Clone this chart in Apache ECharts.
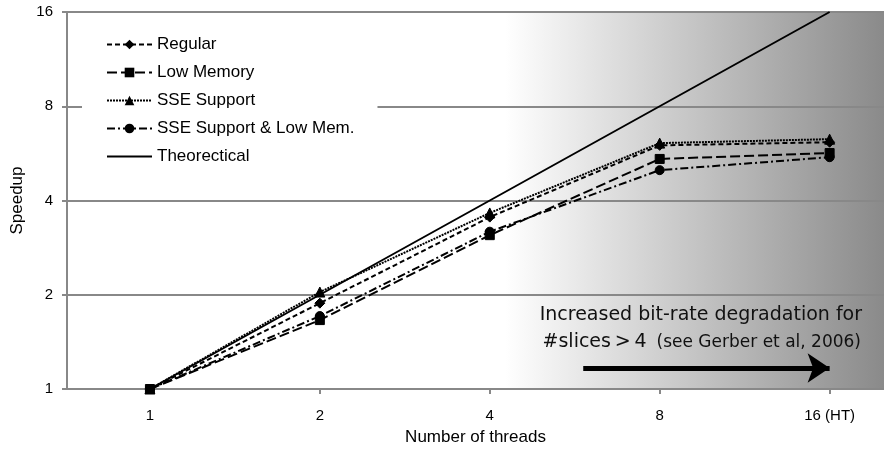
<!DOCTYPE html>
<html>
<head>
<meta charset="utf-8">
<script src="https://cdn.jsdelivr.net/npm/echarts@6/dist/echarts.min.js"></script>
<style>html,body{margin:0;padding:0;background:#fff}#c{width:884px;height:450px}</style>
</head>
<body>
<div id="c"></div>
<script>
const threads = ['1', '2', '4', '8', '16 (HT)'];
const regular = [1, 1.88, 3.54, 6.0, 6.14];
const lowMemory = [1, 1.66, 3.10, 5.43, 5.67];
const sseSupport = [1, 2.04, 3.65, 6.1, 6.28];
const sseLowMem = [1, 1.71, 3.18, 5.0, 5.5];
const theoretical = [1, 2, 4, 8, 16];
const yTicks = [1, 2, 4, 8, 16];

const idx = threads.map((t, i) => i);
const pts = arr => arr.map((v, i) => [i, v]);
const arrowStart = [2.55, 1.167];
const arrowEnd = [4, 1.167];

const chart = echarts.init(document.getElementById('c'), null, {renderer: 'canvas'});
const font = 'Liberation Sans, Arial, sans-serif';
const mk = (name, data, symbol, size, dash, width) => ({
  name, type: 'line', data: pts(data), symbol, symbolSize: size,
  lineStyle: {color: '#000', width: width || 2, type: dash},
  itemStyle: {color: '#000', borderColor: '#000'},
  emphasis: {disabled: true}, animation: false, z: 3
});
const series = [
  mk('Regular', regular, 'diamond', 10, [5, 3]),
  mk('Low Memory', lowMemory, 'rect', 9, [10, 4]),
  mk('SSE Support', sseSupport, 'triangle', 10, [2, 1]),
  mk('SSE Support & Low Mem.', sseLowMem, 'circle', 9, [8, 3, 2, 3]),
  mk('Theorectical', theoretical, 'circle', 0, 'solid')
];
series[4].showSymbol = false;
series[4].itemStyle = {color: '#000', opacity: 0};
series[4].markLine = {
  silent: true, animation: false,
  symbol: ['none', 'arrow'], symbolSize: 22,
  itemStyle: {color: '#000'},
  lineStyle: {color: '#000', width: 5, type: 'solid', opacity: 1},
  label: {show: false},
  emphasis: {disabled: true},
  data: [[{coord: arrowStart}, {coord: arrowEnd}]]
};

chart.setOption({
  animation: false,
  grid: {
    left: 67, right: 0, top: 12, bottom: 61, show: true, borderWidth: 0,
    containLabel: false, outerBoundsMode: 'none',
    backgroundColor: {
      type: 'linear', x: 0, y: 0, x2: 1, y2: 0,
      colorStops: [
        {offset: 0, color: '#ffffff'},
        {offset: 0.536, color: '#ffffff'},
        {offset: 1, color: '#8a8a8a'}
      ]
    }
  },
  legend: {
    orient: 'vertical', left: 82, top: 18,
    padding: [18, 23, 16, 24],
    backgroundColor: '#fff',
    itemWidth: 45, itemHeight: 12, itemGap: 11,
    textStyle: {fontFamily: font, fontSize: 17, color: '#000'},
    data: series.map(s => s.name === 'Theorectical'
      ? {name: s.name, itemStyle: {opacity: 0}}
      : s.name)
  },
  xAxis: {
    type: 'value', min: -0.488, max: 4.32,
    name: 'Number of threads', nameLocation: 'middle', nameGap: 40,
    nameTextStyle: {fontFamily: font, fontSize: 17, color: '#000'},
    axisLine: {show: true, onZero: false, lineStyle: {color: '#888', width: 2}},
    axisTick: {show: true, length: 5, customValues: idx, lineStyle: {color: '#888', width: 2}},
    axisLabel: {customValues: idx, margin: 19, fontFamily: font, fontSize: 15, color: '#000',
      formatter: v => threads[Math.round(v)]},
    splitLine: {show: false}
  },
  yAxis: {
    type: 'log', logBase: 2, min: 1, max: 16,
    name: 'Speedup', nameLocation: 'middle', nameGap: 41,
    nameTextStyle: {fontFamily: font, fontSize: 17, color: '#000'},
    axisLine: {show: true, onZero: false, lineStyle: {color: '#888', width: 2}},
    axisTick: {show: true, length: 5, customValues: yTicks, lineStyle: {color: '#888', width: 2}},
    axisLabel: {customValues: yTicks, margin: 14, fontFamily: font, fontSize: 15, color: '#000'},
    splitLine: {show: true, lineStyle: {color: '#888', width: 2}}
  },
  graphic: [
    {type: 'text', right: 22, top: 306, silent: true, z: 10,
      style: {text: 'Increased bit-rate degradation for', fontFamily: 'DejaVu Sans', fontSize: 19, fill: '#111'}},
    {type: 'text', right: 23, top: 333, silent: true, z: 10,
      style: {text: '{a|#slices\u2009>\u20094}   {b|(see Gerber et al, 2006)}', fill: '#111',
        rich: {a: {fontFamily: 'DejaVu Sans', fontSize: 19, fill: '#111'},
               b: {fontFamily: 'DejaVu Sans', fontSize: 17, fill: '#111'}}}}
  ],
  series
});
</script>
</body>
</html>
